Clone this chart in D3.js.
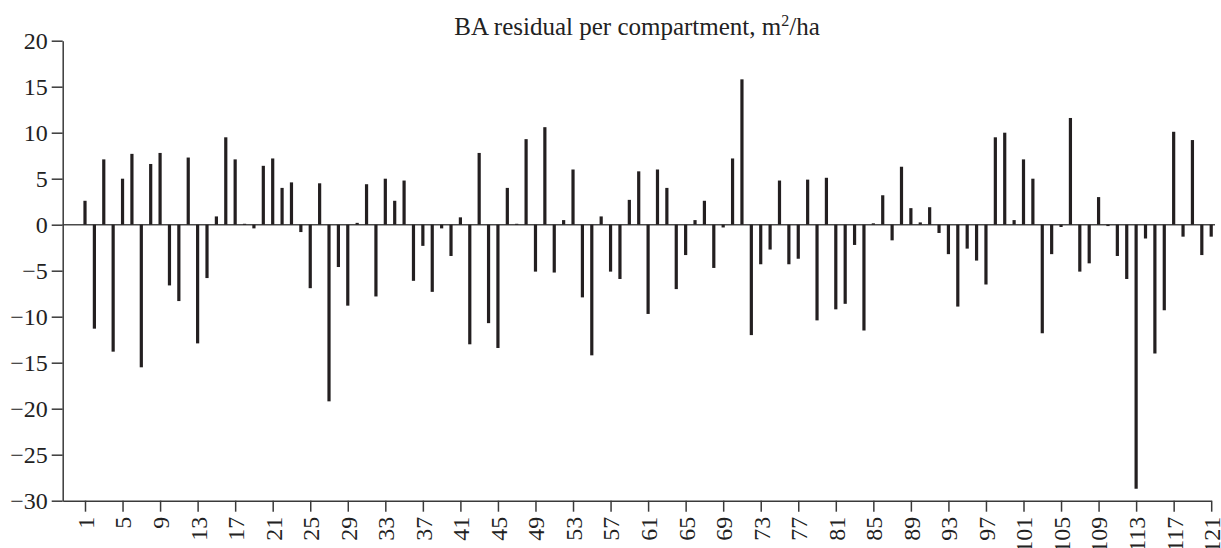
<!DOCTYPE html>
<html>
<head>
<meta charset="utf-8">
<script src="https://cdn.jsdelivr.net/npm/d3@7"></script>
<style>
  body{margin:0;background:#fff;}
  svg{display:block;font-family:"Liberation Serif","Times New Roman",serif;}
  .axis path,.axis line{stroke:#3a3a3a;stroke-width:1.5;}
  .axis text{font-family:"Liberation Serif","Times New Roman",serif;font-size:24px;fill:#222;}
</style>
</head>
<body>
<svg id="chart" width="1221" height="548"></svg>
<script>
// compartment numbers 1..121
var compartments=d3.range(1,122);
// BA residual per compartment, m2/ha
var residuals=[
  2.6,-11.3,7.1,-13.8,5.0,7.7,-15.5,6.6,7.8,-6.6,
  -8.3,7.3,-12.9,-5.8,0.9,9.5,7.1,0.1,-0.4,6.4,
  7.2,4.0,4.6,-0.8,-6.9,4.5,-19.2,-4.6,-8.8,0.2,
  4.4,-7.8,5.0,2.6,4.8,-6.1,-2.3,-7.3,-0.4,-3.4,
  0.8,-13.0,7.8,-10.7,-13.4,4.0,0.1,9.3,-5.1,10.6,
  -5.2,0.5,6.0,-7.9,-14.2,0.9,-5.1,-5.9,2.7,5.8,
  -9.7,6.0,4.0,-7.0,-3.3,0.5,2.6,-4.7,-0.3,7.2,
  15.8,-12.0,-4.3,-2.7,4.8,-4.3,-3.7,4.9,-10.4,5.1,
  -9.2,-8.6,-2.2,-11.5,0.15,3.2,-1.7,6.3,1.8,0.25,
  1.9,-0.9,-3.2,-8.9,-2.6,-3.9,-6.5,9.5,10.0,0.5,
  7.1,5.0,-11.8,-3.2,-0.25,11.6,-5.1,-4.2,3.0,-0.15,
  -3.4,-5.9,-28.7,-1.5,-14.0,-9.3,10.1,-1.3,9.2,-3.3,
  -1.3
];
var yTicks=[20,15,10,5,0,-5,-10,-15,-20,-25,-30];
var xTicks=d3.range(1,122,4);
var title="BA residual per compartment, m";

var data=compartments.map(function(c,i){return {c:c,v:residuals[i]};});

var svg=d3.select("#chart");
var mLeft=62.7, mTop=40.7, mBottom=500.7;
var step=9.385;
var x=d3.scaleLinear().domain([1-(85-mLeft)/step,121]).range([mLeft,85+120*step]);
var y=d3.scaleLinear().domain([-30,20]).range([mBottom,mTop]);

// title
var t=svg.append("text")
  .attr("x",637).attr("y",35)
  .attr("text-anchor","middle")
  .style("font-size","25px").attr("fill","#222")
  .text(title);
t.append("tspan").attr("dy","-9").style("font-size","16px").text("2");
t.append("tspan").attr("dy","9").text("/ha");

// zero line
svg.append("line")
  .attr("x1",mLeft).attr("x2",1215)
  .attr("y1",y(0)).attr("y2",y(0))
  .attr("stroke","#4a4a4a").attr("stroke-width",1.5);

// bars
svg.append("g").selectAll("rect")
  .data(data)
  .enter().append("rect")
  .attr("x",function(d){return x(d.c)-1.6;})
  .attr("width",3.2)
  .attr("y",function(d){return y(Math.max(0,d.v));})
  .attr("height",function(d){return Math.abs(y(d.v)-y(0));})
  .attr("fill","#231f20");

// y axis
var ya=svg.append("g").attr("class","axis")
  .attr("transform","translate("+mLeft+",0)")
  .call(d3.axisLeft(y).tickValues(yTicks).tickSize(11).tickSizeOuter(0).tickPadding(4));

// x axis
var xa=svg.append("g").attr("class","axis")
  .attr("transform","translate(0,"+mBottom+")")
  .call(d3.axisBottom(x).tickValues(xTicks).tickFormat(d3.format("d")).tickSize(11).tickSizeOuter(0));
xa.selectAll("text")
  .attr("transform","rotate(-90)")
  .attr("x",-16).attr("y",0).attr("dy","0.35em")
  .style("text-anchor","end");
</script>
</body>
</html>
